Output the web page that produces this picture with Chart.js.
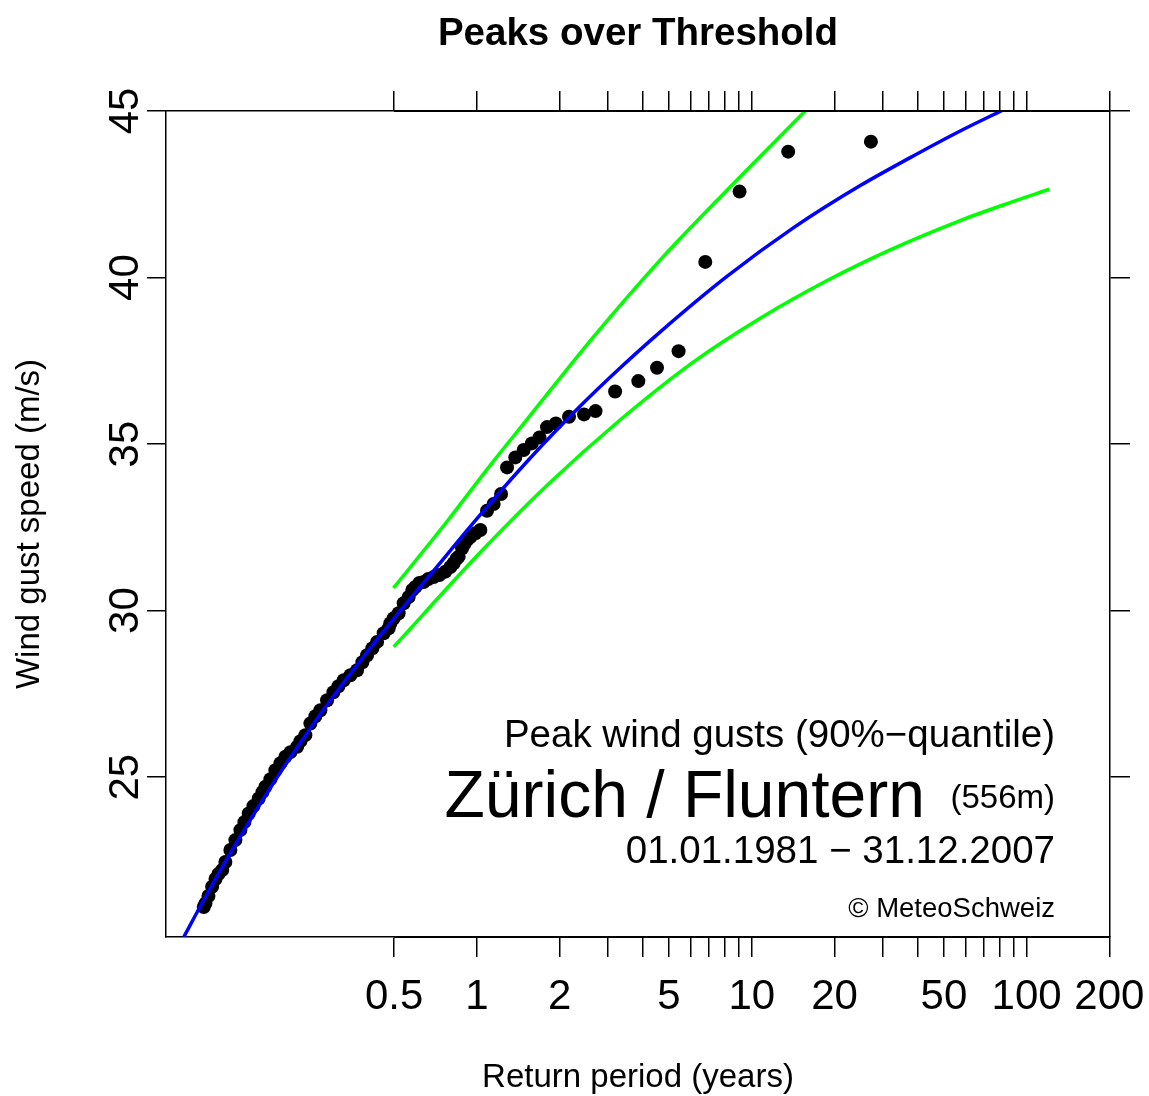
<!DOCTYPE html>
<html>
<head>
<meta charset="utf-8">
<script src="https://cdn.jsdelivr.net/npm/chart.js@4.4.1/dist/chart.umd.min.js"></script>
<style>
html,body{margin:0;padding:0;background:#fff;overflow:hidden}
canvas{display:block}
</style>
</head>
<body>
<canvas id="c" width="1149" height="1096"></canvas>
<script>
// ---------- data ----------
const returnPeriod = [
  0.1015,0.1030,0.1056,0.1089,0.1120,0.1148,0.1185,0.1217,0.1269,0.1323,
  0.1380,0.1427,0.1480,0.1539,0.1609,0.1660,0.1702,0.1774,0.1850,0.1930,
  0.2012,0.2099,0.2220,0.2282,0.2378,0.2480,0.2586,0.2697,0.2852,0.3008,
  0.3137,0.3279,0.3467,0.3667,0.3834,0.3988,0.4169,0.4336,0.4582,0.4779,
  0.4848,0.4983,0.5195,0.5418,0.5649,0.5826,0.5975,0.6178,0.6403,0.6661,
  0.6966,0.7306,0.7683,0.8011,0.8233,0.8424,0.8587,0.8837,0.9006,0.9213,
  0.9471,0.9875,1.030,1.089,1.151,1.225,1.288,1.380,1.480,1.585,
  1.690,1.800,1.938,2.164,2.454,2.702,3.184,3.867,4.522,5.418,
  6.776,9.030,13.57,27.13
];
const gustSpeed = [
  21.10,21.21,21.43,21.71,21.94,22.09,22.21,22.45,22.81,23.11,
  23.41,23.65,23.91,24.13,24.36,24.55,24.71,24.94,25.21,25.42,
  25.61,25.75,25.91,26.08,26.26,26.61,26.83,27.01,27.31,27.55,
  27.73,27.91,28.06,28.21,28.45,28.66,28.87,29.06,29.32,29.47,
  29.62,29.77,29.92,30.22,30.41,30.62,30.71,30.83,30.86,30.95,
  31.01,31.07,31.17,31.31,31.42,31.55,31.62,31.87,32.00,32.12,
  32.21,32.32,32.42,33.00,33.20,33.50,34.30,34.60,34.82,35.02,
  35.20,35.51,35.62,35.82,35.89,35.99,36.58,36.89,37.29,37.79,
  40.47,42.58,43.78,44.08
];
const fitPeriod = [0.0859,0.1015,0.1220,0.1505,0.1855,0.2288,0.2773,0.3667,0.4848,0.7065,
  1.030,1.565,2.379,3.325,4.649,8.145,14.16,24.81,37.71,57.32,83.52];
const fitLevel  = [20.20,21.31,22.48,23.74,24.93,26.05,27.03,28.37,29.63,31.26,
  32.88,34.58,36.14,37.29,38.37,40.04,41.49,42.76,43.60,44.40,45.06];
const upperPeriod = [0.4975,0.7811,1.120,1.526,2.652,4.649,8.145,15.65];
const upperLevel  = [30.68,32.69,34.37,35.75,38.21,40.53,42.63,45.00];
const lowerPeriod = [0.4983,1.030,1.805,3.325,6.143,10.74,18.81,31.89,57.32,87.10,121.0];
const lowerLevel  = [28.91,31.75,33.77,35.73,37.47,38.78,39.91,40.83,41.71,42.25,42.65];

const xTickValues  = [0.5,1,2,3,4,5,6,7,8,9,10,20,30,40,50,60,70,80,90,100,200];
const xLabelValues = [0.5,1,2,5,10,20,50,100,200];
const yTickValues  = [25,30,35,40,45];

const titleText = 'Peaks over Threshold';
const xTitleText = 'Return period (years)';
const yTitleText = 'Wind gust speed (m/s)';
const noteTexts = ['Peak wind gusts (90%\u2212quantile)', 'Zürich / Fluntern', '(556m)',
  '01.01.1981 \u2212 31.12.2007', '\u00A9 MeteoSchweiz'];

// ---------- styling / layout ----------
const FONT = "'Liberation Sans', Arial, Helvetica, sans-serif";
const noteLayout = [
  {size: 38.5, right: 1055, base: 747},
  {size: 66,   right: 925,  base: 817},
  {size: 33,   right: 1055, base: 808},
  {size: 38.5, right: 1055, base: 863},
  {size: 27.5, right: 1055, base: 917}
];

const pairs = (xs, ys) => xs.map((x, i) => ({x: x, y: ys[i]}));
const setTicks = vals => scale => { scale.ticks = vals.map(v => ({value: v})); };
const fixSize = (prop, val) => s => {
  s[prop] = val;
  s.paddingLeft = 0; s.paddingRight = 0; s.paddingTop = 0; s.paddingBottom = 0;
};

const notesPlugin = {
  id: 'notes',
  afterDraw(chart) {
    const ctx = chart.ctx;
    ctx.save();
    ctx.fillStyle = '#000';
    ctx.textAlign = 'right';
    ctx.textBaseline = 'alphabetic';
    noteTexts.forEach((t, i) => {
      const L = noteLayout[i];
      ctx.font = L.size + 'px ' + FONT;
      ctx.fillText(t, L.right, L.base);
    });
    ctx.restore();
  }
};

const axisLinePlugin = {
  id: 'axisLines',
  afterDraw(chart) {
    const xs = chart.scales.x, ca = chart.chartArea, ctx = chart.ctx;
    const a = xs.getPixelForValue(xLabelValues[0]);
    const b = xs.getPixelForValue(xLabelValues[xLabelValues.length - 1]);
    ctx.save();
    ctx.strokeStyle = '#000';
    ctx.lineWidth = 2.2;
    ctx.beginPath();
    ctx.moveTo(a, ca.top); ctx.lineTo(b, ca.top);
    ctx.moveTo(a, ca.bottom); ctx.lineTo(b, ca.bottom);
    ctx.stroke();
    ctx.restore();
  }
};

const gridCfg = len => ({drawOnChartArea: false, drawTicks: true, tickLength: len, color: '#000', lineWidth: 1.5});
const borderCfg = {display: true, color: '#000', width: 1.5};

new Chart(document.getElementById('c'), {
  type: 'scatter',
  data: {
    datasets: [
      {label: 'fit', data: pairs(fitPeriod, fitLevel), showLine: true, borderColor: '#0000FF',
       borderWidth: 3.5, pointRadius: 0, cubicInterpolationMode: 'monotone', fill: false},
      {label: 'upper', data: pairs(upperPeriod, upperLevel), showLine: true, borderColor: '#00FF00',
       borderWidth: 3.5, pointRadius: 0, cubicInterpolationMode: 'monotone', fill: false},
      {label: 'lower', data: pairs(lowerPeriod, lowerLevel), showLine: true, borderColor: '#00FF00',
       borderWidth: 3.5, pointRadius: 0, cubicInterpolationMode: 'monotone', fill: false},
      {label: 'observed', data: pairs(returnPeriod, gustSpeed), showLine: false,
       pointRadius: 7, pointBackgroundColor: '#000', pointBorderWidth: 0, pointHoverRadius: 7}
    ]
  },
  options: {
    responsive: false,
    animation: false,
    devicePixelRatio: 1,
    layout: {padding: 0},
    plugins: {legend: {display: false}, tooltip: {enabled: false}, title: {display: false}},
    scales: {
      x: {
        type: 'logarithmic', axis: 'x', position: 'bottom', min: 0.074, max: 201, bounds: 'data',
        afterBuildTicks: setTicks(xTickValues),
        afterFit: fixSize('height', 159),
        ticks: {autoSkip: false, minRotation: 0, maxRotation: 0, padding: 15, color: '#000',
                font: {family: FONT, size: 42},
                callback: v => xLabelValues.includes(v) ? String(v) : ''},
        grid: gridCfg(20),
        border: borderCfg,
        title: {display: true, text: xTitleText, color: '#000', font: {family: FONT, size: 33},
                padding: {top: 0, bottom: -2}}
      },
      x2: {
        type: 'logarithmic', axis: 'x', position: 'top', min: 0.074, max: 201, bounds: 'data',
        afterBuildTicks: setTicks(xTickValues),
        afterFit: fixSize('height', 111),
        ticks: {display: false},
        grid: gridCfg(20),
        border: borderCfg,
        title: {display: true, text: titleText, color: '#000',
                font: {family: FONT, size: 38.5, weight: 'bold'}, padding: {top: 11, bottom: 0}}
      },
      y: {
        type: 'linear', axis: 'y', position: 'left', min: 20.2, max: 45, bounds: 'data',
        afterBuildTicks: setTicks(yTickValues),
        afterFit: fixSize('width', 166),
        ticks: {minRotation: 90, maxRotation: 90, crossAlign: 'center', padding: -3, color: '#000',
                font: {family: FONT, size: 42}},
        grid: gridCfg(19),
        border: borderCfg,
        title: {display: true, text: yTitleText, color: '#000', font: {family: FONT, size: 33},
                padding: {top: 10, bottom: 0}}
      },
      y2: {
        type: 'linear', axis: 'y', position: 'right', min: 20.2, max: 45, bounds: 'data',
        afterBuildTicks: setTicks(yTickValues),
        afterFit: fixSize('width', 39),
        ticks: {display: false},
        grid: gridCfg(20),
        border: borderCfg
      }
    }
  },
  plugins: [notesPlugin, axisLinePlugin]
});
</script>
</body>
</html>
